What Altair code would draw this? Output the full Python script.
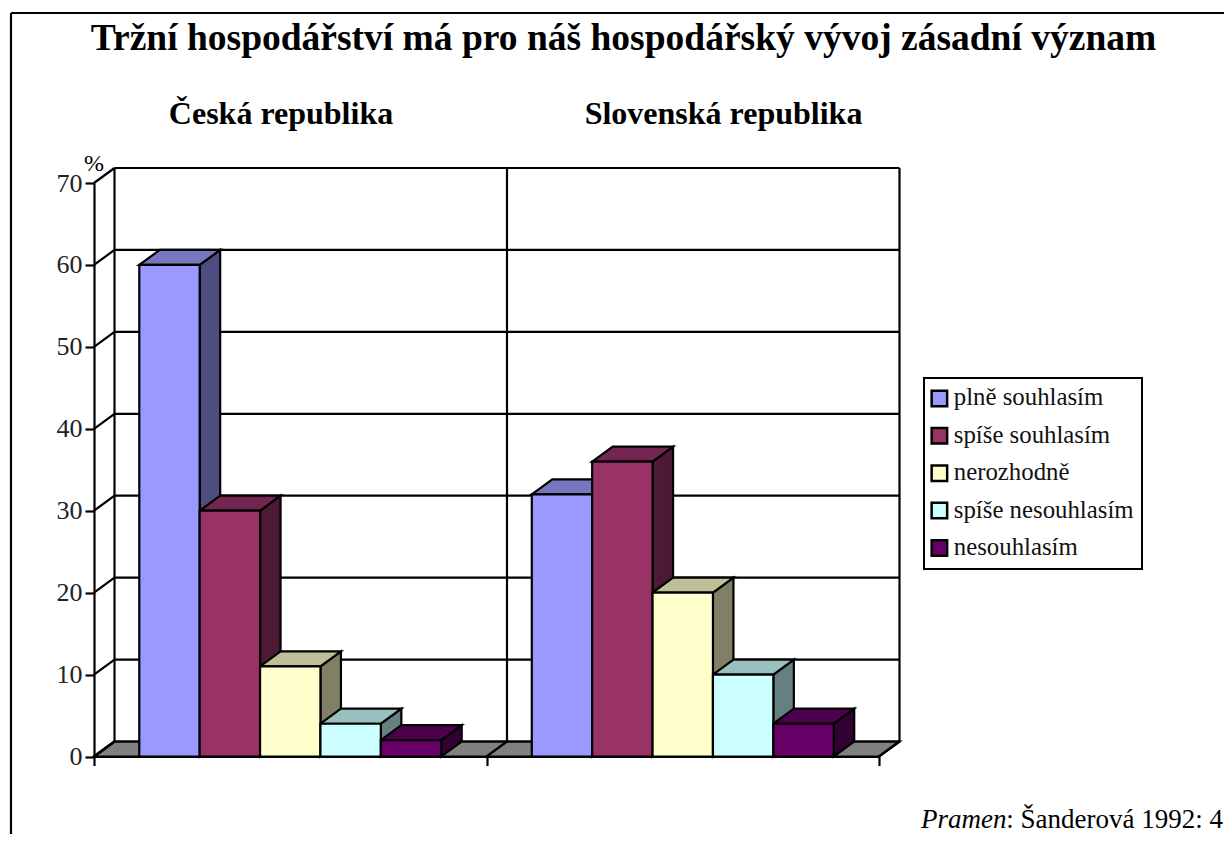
import altair as alt
import pandas as pd

countries = ["Česká republika", "Slovenská republika"]
answers = ["plně souhlasím", "spíše souhlasím", "nerozhodně", "spíše nesouhlasím", "nesouhlasím"]
cz_values = [60, 30, 11, 4, 2]
sk_values = [32, 36, 20, 10, 4]
front_colors = ["#9999FF", "#993366", "#FFFFCC", "#CCFFFF", "#660066"]
top_colors = ["#7777BF", "#732650", "#BFBF99", "#99BFBF", "#4D004D"]
side_colors = ["#4D4D80", "#4D1A33", "#808066", "#668080", "#330033"]
y_ticks = [0, 10, 20, 30, 40, 50, 60, 70]

SERIF = "Liberation Serif"
LW = 2.2
BAR = 1 / 6.5
GAP = 0.75 * BAR
DX = 20.5 / 392.5
DZ = 15 / 8.19
CW, CH = 1216, 826

front, side, top = [], [], []
for c, vals in enumerate([cz_values, sk_values]):
    for i, v in enumerate(vals):
        xl = c + GAP + i * BAR
        xr = xl + BAR
        key = f"{c}-{i}"
        front.append(dict(key=key, answer=answers[i], xl=xl, xr=xr, v=v, base=0))
        side.append(dict(key=key, x=xr, y=v, y2=0, fill=side_colors[i]))
        side.append(dict(key=key, x=xr + DX, y=v + DZ, y2=DZ, fill=side_colors[i]))
        top.append(dict(key=key, y=v, x=xl, x2=xr, fill=top_colors[i]))
        top.append(dict(key=key, y=v + DZ, x=xl + DX, x2=xr + DX, fill=top_colors[i]))

xs = alt.Scale(domain=[0, 2], range=[86, 871])
ys = alt.Scale(domain=[0, 70], range=[748.5, 175])
x_axis = alt.Axis(
    orient="bottom", offset=748.5 - CH, values=[0, 1, 2], labels=False, title=None,
    grid=False, tickSize=9, tickWidth=LW, tickColor="black", domainColor="black",
    domainWidth=LW, zindex=1)
y_axis = alt.Axis(
    orient="left", offset=-86, values=y_ticks, title=None, grid=False, tickSize=9,
    tickWidth=LW, tickColor="black", domainColor="black", domainWidth=LW,
    labelFont=SERIF, labelFontSize=26, labelColor="#222", labelPadding=3, zindex=1)
X = lambda f: alt.X(f, type="quantitative", scale=xs, axis=x_axis)
Y = lambda f: alt.Y(f, type="quantitative", scale=ys, axis=y_axis)

# back wall and grid
wall = []
for t in y_ticks:
    wall.append(dict(x=DX, x2=2 + DX, y=t + DZ, y2=t + DZ))
    wall.append(dict(x=0, x2=DX, y=t, y2=t + DZ))
for c in [0, 1, 2]:
    wall.append(dict(x=c + DX, x2=c + DX, y=DZ, y2=70 + DZ))
    wall.append(dict(x=c, x2=c + DX, y=0, y2=DZ))

floor = pd.DataFrame([
    dict(y=0, x=0, x2=2),
    dict(y=DZ, x=DX, x2=2 + DX),
])

floor_layer = alt.Chart(floor).mark_area(
    orient="horizontal", fill="#808080", stroke="black", strokeWidth=LW
).encode(x=X("x"), x2="x2", y=Y("y"))

wall_layer = alt.Chart(pd.DataFrame(wall)).mark_rule(
    color="black", strokeWidth=LW
).encode(x=X("x"), x2="x2", y=Y("y"), y2="y2")

side_layer = alt.Chart(pd.DataFrame(side)).mark_area(
    stroke="black", strokeWidth=LW
).encode(x=X("x"), y=Y("y"), y2="y2", detail="key", fill=alt.Fill("fill:N", scale=None))

top_layer = alt.Chart(pd.DataFrame(top)).mark_area(
    orient="horizontal", stroke="black", strokeWidth=LW
).encode(x=X("x"), x2="x2", y=Y("y"), detail="key", fill=alt.Fill("fill:N", scale=None))

front_layer = alt.Chart(pd.DataFrame(front)).mark_bar(
    stroke="black", strokeWidth=LW
).encode(
    x=X("xl"), x2="xr", y=Y("v"), y2="base",
    color=alt.Color(
        "answer:N",
        scale=alt.Scale(domain=answers, range=front_colors),
        legend=alt.Legend(
            title=None, orient="none", legendX=916, legendY=370,
            symbolType="square", symbolSize=240, symbolStrokeColor="black",
            symbolStrokeWidth=2.5, symbolOpacity=1, symbolOffset=-5, labelFont=SERIF,
            labelFontSize=24.8, labelColor="#111", labelOffset=2, rowPadding=10.4,
            padding=8, fillColor="white", strokeColor="black", labelLimit=300,
        ),
    ),
)

def label(text, px, py, size, align="center", weight="normal", style="normal"):
    return alt.Chart(pd.DataFrame({"t": [text]})).mark_text(
        font=SERIF, fontSize=size, align=align, baseline="alphabetic",
        fontWeight=weight, fontStyle=style, color="black",
    ).encode(text="t:N", x=alt.value(px - 8), y=alt.value(py - 8))

texts = [
    label("Tržní hospodářství má pro náš hospodářský vývoj zásadní význam", 623.5, 50, 37.5, weight="bold"),
    label(countries[0], 281, 124, 32, weight="bold"),
    label(countries[1], 723.5, 124, 32, weight="bold"),
    label("%", 94, 171, 24),
    label("Pramen", 921, 827.5, 27, align="left", style="italic"),
    label(": Šanderová 1992: 4", 1223, 827.5, 27, align="right"),
]

frame = [
    alt.Chart(pd.DataFrame({"a": [0]})).mark_rule(color="black", strokeWidth=LW).encode(
        x=alt.value(3), y=alt.value(5), y2=alt.value(CH)),
    alt.Chart(pd.DataFrame({"a": [0]})).mark_rule(color="black", strokeWidth=LW).encode(
        y=alt.value(5), x=alt.value(3), x2=alt.value(CW)),
]

chart = alt.layer(
    *frame, floor_layer, wall_layer, side_layer, top_layer, front_layer, *texts
).properties(
    width=CW, height=CH, padding=0, autosize=alt.AutoSizeParams(type="none"),
    background="white",
).configure_view(stroke=None).configure_legend(strokeWidth=2)

chart.save("out.html", embed_options={"renderer": "svg", "actions": False})
